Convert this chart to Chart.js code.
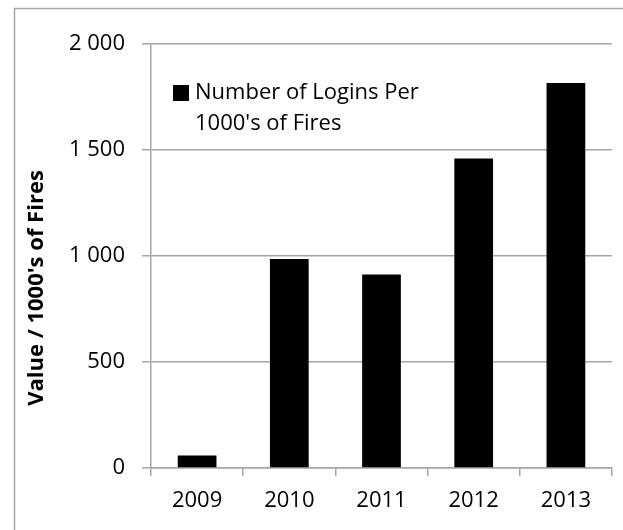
<!DOCTYPE html>
<html>
<head>
<meta charset="utf-8">
<script src="https://cdn.jsdelivr.net/npm/chart.js@4/dist/chart.umd.min.js"></script>
<style>
  html, body { margin: 0; padding: 0; background: #ffffff; }
  #wrap { width: 623px; height: 530px; position: relative; }
</style>
</head>
<body>
<div id="wrap"><canvas id="c" width="623" height="530"></canvas></div>
<script>
const categories = ['2009', '2010', '2011', '2012', '2013'];
const seriesName = "Number of Logins Per 1000's of Fires";
const legendLines = ['Number of Logins Per', "1000's of Fires"];
const values = [59, 986, 913, 1460, 1816];
const yTicks = [0, 500, 1000, 1500, 2000];
const yTitle = "Value / 1000's of Fires";

const FONT = "'Open Sans', sans-serif";
const GRID = '#a6a6a6';

function fmt(v) {
  return String(v).replace(/\B(?=(\d{3})+(?!\d))/g, ' ');
}

const framePlugin = {
  id: 'frame',
  beforeDraw(chart) {
    const ctx = chart.ctx;
    ctx.save();
    ctx.strokeStyle = GRID;
    ctx.lineWidth = 1.5;
    ctx.beginPath();
    ctx.moveTo(14.5, chart.height);
    ctx.lineTo(14.5, 8.5);
    ctx.lineTo(chart.width, 8.5);
    ctx.stroke();
    ctx.restore();
  },
  afterDraw(chart) {
    const ctx = chart.ctx;
    const area = chart.chartArea;
    ctx.save();
    // Y axis title
    ctx.font = "bold 22px " + FONT;
    ctx.fillStyle = '#000';
    ctx.textAlign = 'center';
    ctx.textBaseline = 'middle';
    ctx.translate(37, 288);
    ctx.rotate(-Math.PI / 2);
    ctx.fillText(yTitle, 0, 0);
    ctx.restore();
    // Legend inside plot
    ctx.save();
    const ds = chart.data.datasets[0];
    ctx.fillStyle = ds.backgroundColor;
    ctx.fillRect(173, 85, 16, 16);
    ctx.font = "22px " + FONT;
    ctx.fillStyle = '#000';
    ctx.textAlign = 'left';
    ctx.textBaseline = 'middle';
    legendLines.forEach((t, i) => ctx.fillText(t, 195, 93 + i * 31));
    ctx.restore();
  }
};

new Chart(document.getElementById('c'), {
  type: 'bar',
  data: {
    labels: categories,
    datasets: [{
      label: seriesName,
      data: values,
      backgroundColor: '#000000',
      borderWidth: 0,
      barPercentage: 0.42,
      categoryPercentage: 1.0
    }]
  },
  options: {
    responsive: false,
    animation: false,
    devicePixelRatio: 1,
    layout: { padding: { left: 0, right: 11, top: 44, bottom: 0 } },
    plugins: {
      legend: { display: false },
      tooltip: { enabled: false }
    },
    scales: {
      x: {
        afterFit(scale) { scale.height = 62; },
        grid: {
          display: true,
          drawOnChartArea: false,
          drawTicks: true,
          tickLength: 8,
          color: GRID,
          lineWidth: 1.5,
          offset: true
        },
        border: { display: true, color: GRID, width: 1.5 },
        ticks: {
          color: '#000',
          font: { family: FONT, size: 22 },
          padding: 12,
          maxRotation: 0
        }
      },
      y: {
        min: 0,
        max: 2000,
        afterFit(scale) { scale.width = 151; },
        afterBuildTicks(scale) { scale.ticks = yTicks.map(v => ({ value: v })); },
        grid: {
          color: GRID,
          lineWidth: 1.5,
          drawTicks: true,
          tickLength: 9
        },
        border: { display: true, color: GRID, width: 1.5 },
        ticks: {
          color: '#000',
          font: { family: FONT, size: 22 },
          padding: 17,
          callback: (v) => fmt(v)
        }
      }
    }
  },
  plugins: [framePlugin]
});
</script>
</body>
</html>
